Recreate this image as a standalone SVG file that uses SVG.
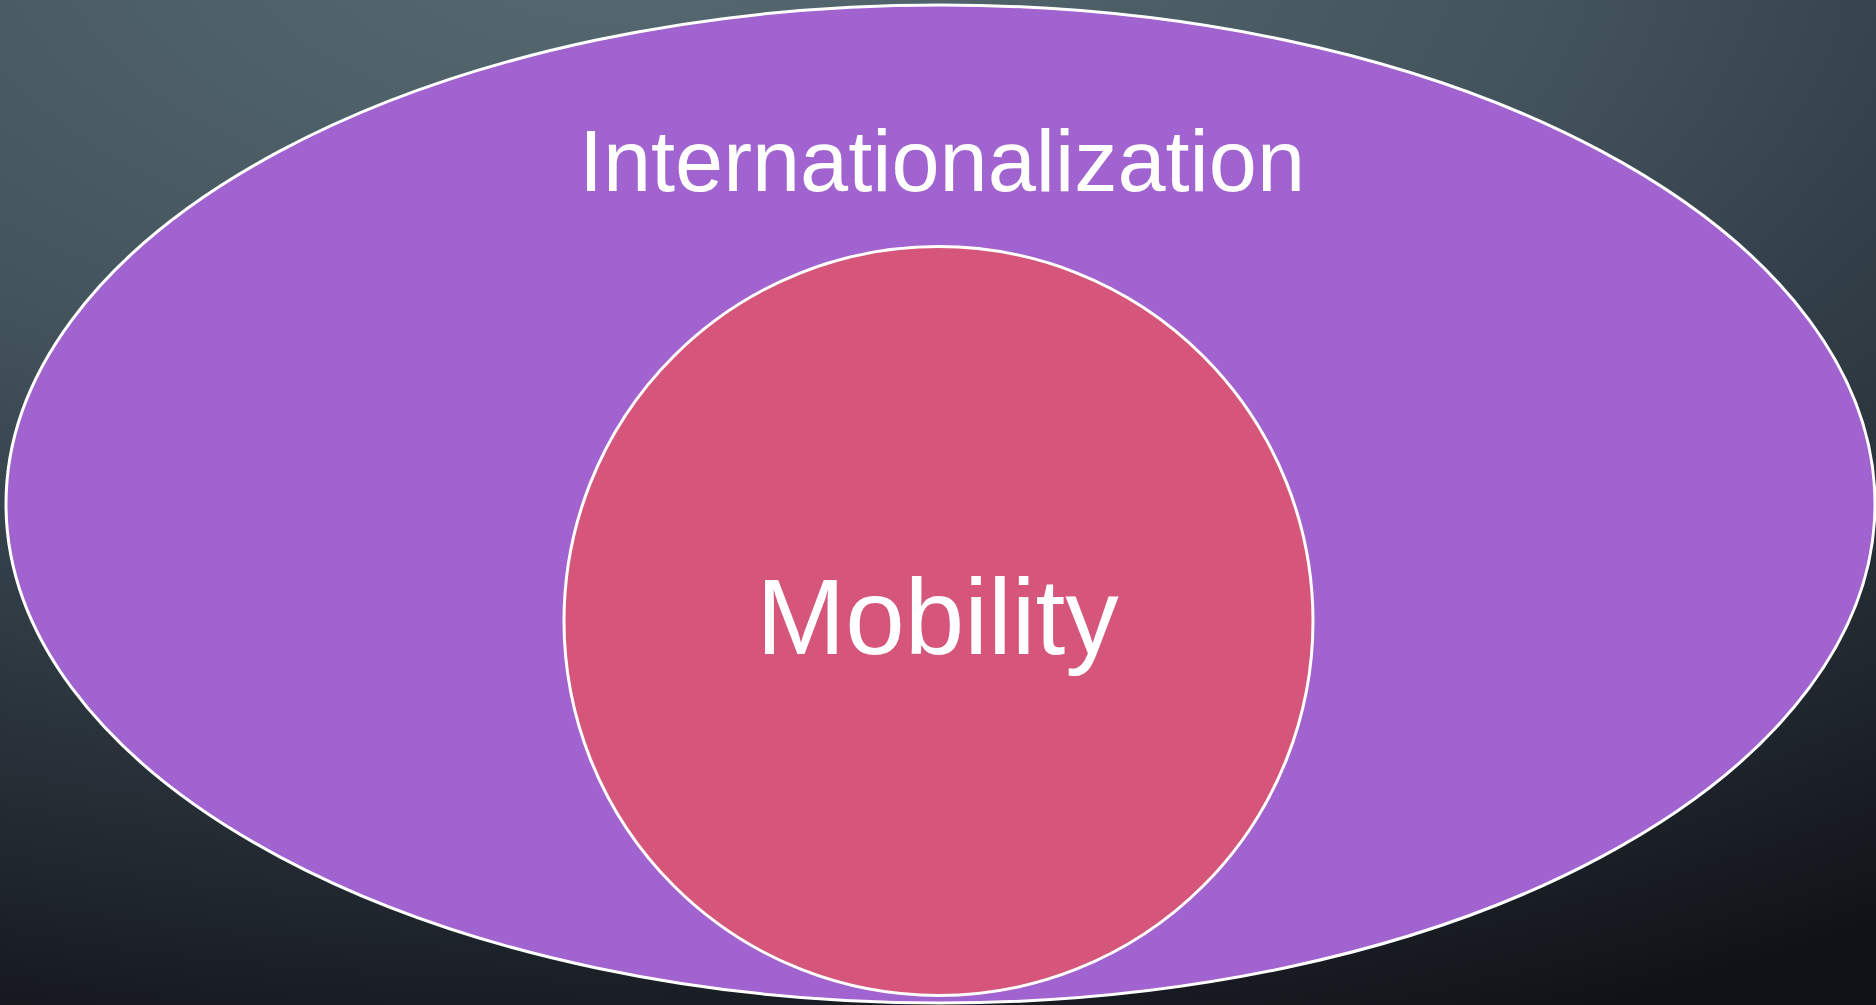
<svg xmlns="http://www.w3.org/2000/svg" width="1876" height="1005" viewBox="0 0 1876 1005">
<defs>
<radialGradient id="bg" gradientUnits="userSpaceOnUse" cx="0" cy="0" r="1" gradientTransform="translate(620,-80) scale(2300,1200)">
<stop offset="0" stop-color="#576b72"/>
<stop offset="0.4" stop-color="#44545d"/>
<stop offset="0.65" stop-color="#2f3a43"/>
<stop offset="0.85" stop-color="#1e242b"/>
<stop offset="1" stop-color="#101217"/>
</radialGradient>
<style>
.shape{stroke:#ffffff;stroke-width:3}
.lbl{font-family:"Liberation Sans",Arial,sans-serif;fill:#ffffff;text-anchor:middle}
</style>
</defs>
<rect x="0" y="0" width="1876" height="1005" fill="url(#bg)"/>
<g id="internationalization">
<ellipse class="shape" cx="940.5" cy="504" rx="934.5" ry="499" fill="#a163cf"/>
<text class="lbl" x="942" y="191" font-size="86.5">Internationalization</text>
</g>
<g id="mobility">
<circle class="shape" cx="938.5" cy="621" r="374.5" fill="#d6557a"/>
<text class="lbl" x="937.5" y="654" font-size="107">Mobility</text>
</g>
<g id="connectors"/>
</svg>
